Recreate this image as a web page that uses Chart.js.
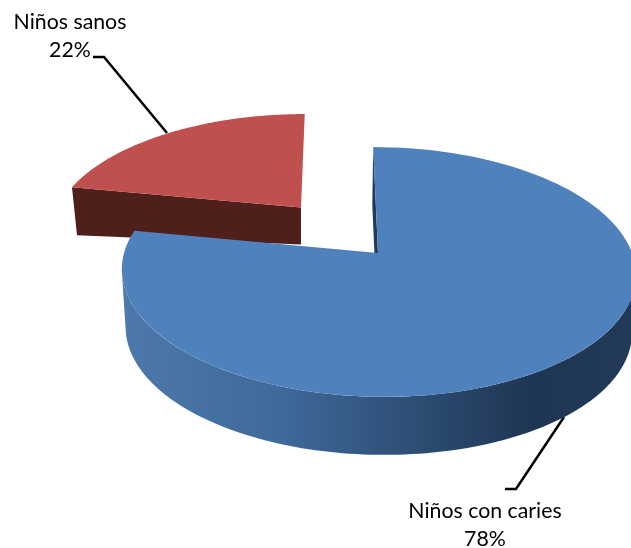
<!DOCTYPE html>
<html lang="es">
<head>
    <meta charset="UTF-8">
    <title>Niños con caries</title>
    <script src="https://cdn.jsdelivr.net/npm/chart.js@4/dist/chart.umd.min.js"></script>
    <style>
        html, body { margin: 0; padding: 0; background: #fff; }
        canvas { display: block; }
    </style>
</head>
<body>
    <canvas id="pieChart" width="631" height="548"></canvas>

    <script>
        var categories = ['Niños con caries', 'Niños sanos'];
        var values = [78, 22];
        var sliceColors = ['#4f81bd', '#c0504d'];

        // perspective of each slice: apex, half axes, foreshortening, shear
        var faces = [
            { ax: 378, ay: 253, a: 254, b: 122, c: 0.152, shear: 0.045 },
            { ax: 301, ay: 207.5, a: 243, b: 112.7, c: 0.206, shear: -0.04 }
        ];
        var labelSpots = [
            { x: 485, y: 518, line: [[505, 489], [516, 489], [564, 417]] },
            { x: 70, y: 29, line: [[93, 57], [104, 57], [167, 133]] }
        ];

        function project(f, angle) {
            var X = Math.cos(angle), Y = Math.sin(angle), w = 1 - f.c * Y;
            var dy = f.b * Y / w;
            return { x: f.ax + f.a * X / w + f.shear * dy, y: f.ay + dy };
        }

        function rim(ctx, f, from, to, dx, dy, shrink) {
            var steps = 120;
            for (var i = 0; i <= steps; i++) {
                var p = project(f, from + (to - from) * i / steps);
                ctx.lineTo(f.ax + (p.x - f.ax) * shrink + dx, p.y + dy);
            }
        }

        function poly(ctx, pts, fill) {
            ctx.beginPath();
            pts.forEach(function (p) { ctx.lineTo(p.x, p.y); });
            ctx.closePath();
            ctx.fillStyle = fill;
            ctx.fill();
        }

        function drawTop(ctx, f, arc, color) {
            ctx.beginPath();
            ctx.moveTo(f.ax, f.ay);
            rim(ctx, f, arc.startAngle, arc.endAngle, 0, 0, 1);
            ctx.closePath();
            ctx.fillStyle = color;
            ctx.fill();
        }

        var pie3d = {
            id: 'pie3d',
            beforeDatasetDraw: function (chart, args) {
                var ctx = chart.ctx;
                var arcs = args.meta.data;
                var blue = arcs[0], red = arcs[1];
                var fb = faces[0], fr = faces[1];
                var depth = 58;

                // leader lines
                ctx.save();
                ctx.strokeStyle = '#000';
                ctx.lineWidth = 2.5;
                labelSpots.forEach(function (s) {
                    ctx.beginPath();
                    s.line.forEach(function (p) { ctx.lineTo(p[0], p[1]); });
                    ctx.stroke();
                });

                // detached slice
                var corner = project(fr, red.startAngle);
                poly(ctx, [
                    corner,
                    { x: fr.ax, y: fr.ay },
                    { x: fr.ax, y: fr.ay + 37 },
                    { x: corner.x + 5, y: corner.y + 48 }
                ], '#4f1f1b');
                drawTop(ctx, fr, red, sliceColors[1]);

                // round wall of the big slice, between its left and right extremes
                var side = Math.asin(fb.c);
                var grad = ctx.createLinearGradient(125, 0, 631, 0);
                grad.addColorStop(0, '#4c78ab');
                grad.addColorStop(0.3, '#3f6a9b');
                grad.addColorStop(0.55, '#2f5078');
                grad.addColorStop(0.8, '#1f3653');
                grad.addColorStop(1, '#223a58');
                ctx.beginPath();
                rim(ctx, fb, side, Math.PI - side, 0, 0, 1);
                rim(ctx, fb, Math.PI - side, side, 0, depth, 0.985);
                ctx.closePath();
                ctx.fillStyle = grad;
                ctx.fill();

                // inner wall showing at the cut
                var top = project(fb, blue.startAngle);
                poly(ctx, [
                    top,
                    { x: fb.ax + (top.x - fb.ax) * 0.985 - 1, y: top.y + depth },
                    { x: fb.ax - 1, y: fb.ay + depth },
                    { x: fb.ax, y: fb.ay }
                ], '#1f3a5c');
                drawTop(ctx, fb, blue, sliceColors[0]);

                // labels
                var total = values.reduce(function (s, v) { return s + v; }, 0);
                ctx.fillStyle = '#000';
                ctx.textAlign = 'center';
                ctx.textBaseline = 'alphabetic';
                ctx.font = '21.3px Lato';
                categories.forEach(function (name, i) {
                    ctx.fillText(name, labelSpots[i].x, labelSpots[i].y);
                    ctx.fillText(Math.round(values[i] / total * 100) + '%', labelSpots[i].x, labelSpots[i].y + 27.5);
                });
                ctx.restore();
                return false;
            }
        };

        new Chart(document.getElementById('pieChart'), {
            type: 'pie',
            data: {
                labels: categories,
                datasets: [{ data: values, backgroundColor: sliceColors, borderWidth: 0 }]
            },
            options: {
                responsive: false,
                animation: false,
                plugins: {
                    legend: { display: false },
                    tooltip: { enabled: false }
                }
            },
            plugins: [pie3d]
        });
    </script>
</body>
</html>
